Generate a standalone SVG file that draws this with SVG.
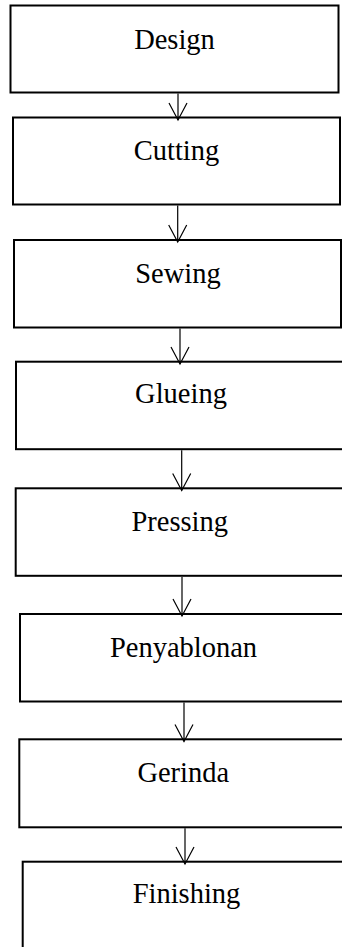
<svg xmlns="http://www.w3.org/2000/svg" width="342" height="947" viewBox="0 0 342 947">
  <style>
    .box { fill: #fff; stroke: #000; stroke-width: 2; }
    .label { font-family: "Liberation Serif", "Times New Roman", serif; font-size: 28.5px; fill: #000; text-anchor: middle; }
    .conn { fill: none; stroke: #000; stroke-width: 1.2; marker-end: url(#vhead); }
  </style>
  <defs>
    <marker id="vhead" markerUnits="userSpaceOnUse" viewBox="-20 -11 22 22" refX="0" refY="0" markerWidth="22" markerHeight="22" orient="auto" overflow="visible">
      <path d="M-17,-9 L0,0 L-17,9" fill="none" stroke="#000" stroke-width="1.2"/>
    </marker>
  </defs>
  <rect width="342" height="947" fill="#fff"/>

  <g id="design">
    <rect class="box" x="10.5" y="5.5" width="328" height="87"/>
    <text class="label" x="174.5" y="48.5">Design</text>
  </g>
  <g id="cutting">
    <rect class="box" x="13" y="117.5" width="327" height="87"/>
    <text class="label" x="176.5" y="160">Cutting</text>
  </g>
  <g id="sewing">
    <rect class="box" x="14" y="240" width="327" height="87.5"/>
    <text class="label" x="178" y="283.3">Sewing</text>
  </g>
  <g id="glueing">
    <rect class="box" x="16" y="361.7" width="328" height="87.5"/>
    <text class="label" x="181" y="403.3">Glueing</text>
  </g>
  <g id="pressing">
    <rect class="box" x="15.7" y="488.3" width="328" height="87.5"/>
    <text class="label" x="179.7" y="530.7">Pressing</text>
  </g>
  <g id="penyablonan">
    <rect class="box" x="20" y="614" width="328" height="87.5"/>
    <text class="label" x="183.5" y="656.7">Penyablonan</text>
  </g>
  <g id="gerinda">
    <rect class="box" x="19.3" y="739.3" width="328" height="88"/>
    <text class="label" x="183.3" y="781.7">Gerinda</text>
  </g>
  <g id="finishing">
    <rect class="box" x="22.7" y="861.7" width="328" height="88"/>
    <text class="label" x="186.5" y="902.7">Finishing</text>
  </g>

  <g id="connectors">
    <path class="conn" d="M178,93.5 L178,120"/>
    <path class="conn" d="M177.7,205.5 L177.7,242"/>
    <path class="conn" d="M180,328.5 L180,364"/>
    <path class="conn" d="M181.7,450.3 L181.7,490.5"/>
    <path class="conn" d="M182,577 L182,616"/>
    <path class="conn" d="M184,702.5 L184,741.5"/>
    <path class="conn" d="M185,828.3 L185,864"/>
  </g>
</svg>
